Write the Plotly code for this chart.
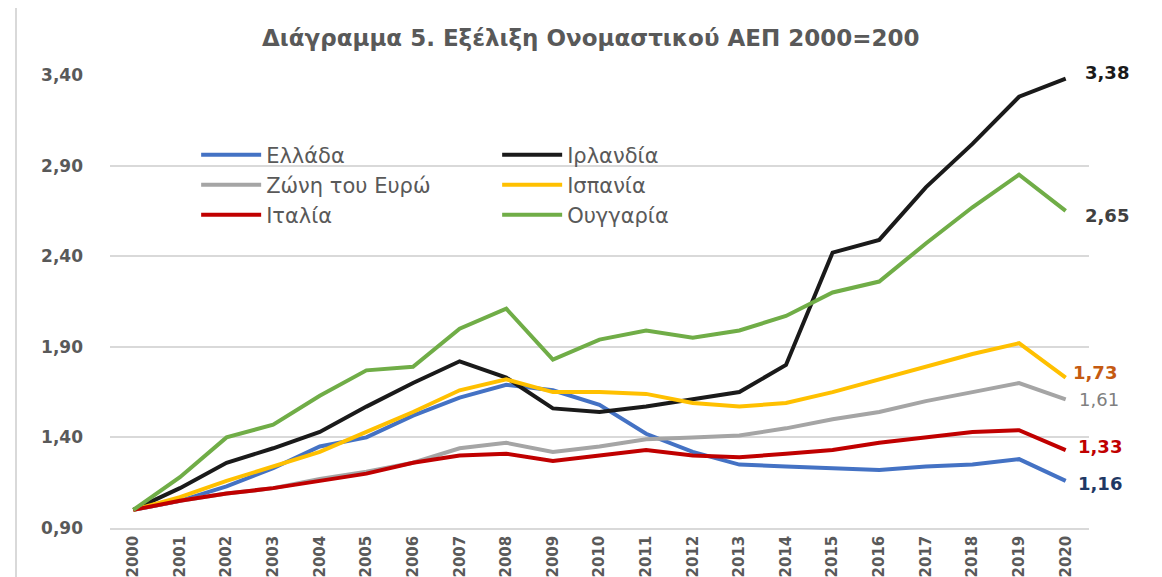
import plotly.graph_objects as go

years = list(range(2000, 2021))

greece = [1.00, 1.05, 1.13, 1.23, 1.35, 1.40, 1.52, 1.62, 1.69, 1.66, 1.58, 1.42, 1.32, 1.25, 1.24, 1.23, 1.22, 1.24, 1.25, 1.28, 1.16]
ireland = [1.00, 1.12, 1.26, 1.34, 1.43, 1.57, 1.70, 1.82, 1.73, 1.56, 1.54, 1.57, 1.61, 1.65, 1.80, 2.42, 2.49, 2.78, 3.02, 3.28, 3.38]
eurozone = [1.00, 1.05, 1.09, 1.12, 1.17, 1.21, 1.26, 1.34, 1.37, 1.32, 1.35, 1.39, 1.40, 1.41, 1.45, 1.50, 1.54, 1.60, 1.65, 1.70, 1.61]
spain = [1.00, 1.07, 1.16, 1.24, 1.32, 1.43, 1.54, 1.66, 1.72, 1.65, 1.65, 1.64, 1.59, 1.57, 1.59, 1.65, 1.72, 1.79, 1.86, 1.92, 1.73]
italy = [1.00, 1.05, 1.09, 1.12, 1.16, 1.20, 1.26, 1.30, 1.31, 1.27, 1.30, 1.33, 1.30, 1.29, 1.31, 1.33, 1.37, 1.40, 1.43, 1.44, 1.33]
hungary = [1.00, 1.18, 1.40, 1.47, 1.63, 1.77, 1.79, 2.00, 2.11, 1.83, 1.94, 1.99, 1.95, 1.99, 2.07, 2.20, 2.26, 2.47, 2.67, 2.85, 2.65]

names = ["Ελλάδα", "Ιρλανδία", "Ζώνη του Ευρώ", "Ισπανία", "Ιταλία", "Ουγγαρία"]
series = [greece, ireland, eurozone, spain, italy, hungary]
colors = ["#4472C4", "#1a1a1a", "#A5A5A5", "#FFC000", "#C00000", "#70AD47"]
legends = ["legend", "legend", "legend2", "legend2", "legend3", "legend3"]

# end labels: text colour, bold, nudges (px)
end_label_colors = ["#1F3864", "#1a1a1a", "#7F7F7F", "#C55A11", "#C00000", "#404040"]
end_label_bold = [True, True, False, True, True, True]
end_label_shift = [-3, 6, 0, 5, 4, -5]
end_label_xshift = [10, 17, 11, 5, 10, 17]

fig = go.Figure()
for name, vals, col, lg in zip(names, series, colors, legends):
    fig.add_trace(go.Scatter(x=years, y=vals, mode="lines", name=name,
                             line=dict(color=col, width=4), legend=lg))

for vals, col, bold, ys, xs in zip(series, end_label_colors, end_label_bold, end_label_shift, end_label_xshift):
    txt = f"{vals[-1]:.2f}".replace(".", ",")
    if bold:
        txt = "<b>" + txt + "</b>"
    fig.add_annotation(x=years[-1], y=vals[-1], text=txt, showarrow=False,
                       xanchor="left", xshift=xs, yshift=ys,
                       font=dict(family="DejaVu Sans", size=18, color=col))

leg_common = dict(orientation="h", xanchor="left", yanchor="middle",
                  bgcolor="rgba(0,0,0,0)", entrywidth=226, entrywidthmode="pixels",
                  font=dict(family="DejaVu Sans", size=21, color="#595959"),
                  itemwidth=60, tracegroupgap=0)

# page body has an 8px margin, so the figure is a bit smaller than the window
fig.update_layout(
    width=1154, height=569,
    margin=dict(l=102, r=73, t=67, b=49),
    paper_bgcolor="white", plot_bgcolor="white",
    separators=",.",
    title=dict(text="Διάγραμμα 5. Εξέλιξη Ονομαστικού ΑΕΠ 2000=200",
               x=0.505, xanchor="center", y=0.947, yanchor="middle",
               font=dict(family="DejaVu Sans", size=23, color="#595959", weight="bold")),
    legend=dict(x=0.088, y=0.823, **leg_common),
    legend2=dict(x=0.088, y=0.757, **leg_common),
    legend3=dict(x=0.088, y=0.691, **leg_common),
    xaxis=dict(range=[1999.5, 2020.5], tickmode="array", tickvals=years,
               ticktext=[str(y) for y in years], tickangle=-90, automargin=False,
               showgrid=False, showline=True, linecolor="#D9D9D9", linewidth=1.5,
               ticks="", zeroline=False,
               tickfont=dict(family="DejaVu Sans", size=15, color="#595959", weight="bold")),
    yaxis=dict(range=[0.9, 3.4], tick0=0.9, dtick=0.5, tickformat=".2f", automargin=False,
               showgrid=True, gridcolor="#D9D9D9", gridwidth=1.5, zeroline=False,
               ticks="", ticklabelstandoff=26,
               tickfont=dict(family="DejaVu Sans", size=17, color="#595959", weight="bold")),
    shapes=[dict(type="line", xref="paper", yref="paper", x0=-0.096, x1=-0.096,
                 y0=-0.2, y1=1.2, line=dict(color="#D9D9D9", width=2))],
)

fig.write_html("out.html")
